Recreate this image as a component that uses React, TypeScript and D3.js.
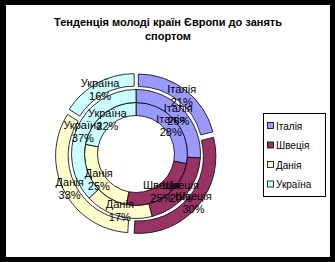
import { useEffect, useRef } from 'react';
import * as d3 from 'd3';

// дані діаграми (у відсотках)
const categories = ['Італія', 'Швеція', 'Данія', 'Україна'];
const innerValues = [28, 25, 25, 22];
const middleValues = [26, 20, 17, 37];
const outerValues = [21, 30, 33, 16];
const palette = ['#9999FF', '#993366', '#FFFFCC', '#CCFFFF'];
const titleLines = ['Тенденція молоді країн Європи до занять', 'спортом'];

const W = 335;
const H = 262;
const FONT = 'Arial, "Liberation Sans", sans-serif';

export default function App() {
  const svgRef = useRef<SVGSVGElement | null>(null);

  useEffect(() => {
    const svg = d3.select(svgRef.current);
    svg.selectAll('*').remove();
    svg.attr('width', W).attr('height', H);

    // ── рамка ───────────────────────────────
    svg.append('rect').attr('width', W).attr('height', H).attr('fill', '#000');
    svg.append('rect').attr('x', 6).attr('y', 5).attr('width', 324).attr('height', 252).attr('fill', '#fff');

    // ── заголовок ───────────────────────────
    svg.append('g').selectAll('text').data(titleLines).join('text')
      .attr('x', 168).attr('y', (_d, i) => 26 + i * 14)
      .attr('text-anchor', 'middle')
      .attr('font-family', FONT).attr('font-size', '11px').attr('font-weight', 'bold')
      .attr('fill', '#000')
      .text(d => d);

    // ── кільця ──────────────────────────────
    const cx = 136, cy = 154;
    const radii = [38.5, 51.5, 64.5, 77];
    const explode = 3.8; // зсув зовнішнього кільця
    const rings = [innerValues, middleValues, outerValues];

    const pie = d3.pie<number>().sort(null).value(d => d);
    const g = svg.append('g').attr('transform', `translate(${cx},${cy})`);
    const labels: { x: number; y: number; name: string; v: number }[] = [];

    rings.forEach((vals, ri) => {
      const arc = d3.arc<d3.PieArcDatum<number>>()
        .innerRadius(radii[ri]).outerRadius(radii[ri + 1]);
      const off = ri === rings.length - 1 ? explode : 0;
      pie(vals).forEach((p, i) => {
        const mid = (p.startAngle + p.endAngle) / 2;
        const dx = off * Math.sin(mid), dy = -off * Math.cos(mid);
        g.append('path')
          .attr('d', arc(p))
          .attr('transform', `translate(${dx},${dy})`)
          .attr('fill', palette[i])
          .attr('stroke', '#000').attr('stroke-width', 0.8);
        const [lx, ly] = arc.centroid(p);
        labels.push({ x: lx + dx, y: ly + dy, name: categories[i], v: p.data });
      });
    });

    // підписи даних
    labels.forEach(l => {
      const t = g.append('text')
        .attr('font-family', FONT).attr('font-size', '11px').attr('fill', '#000')
        .attr('text-anchor', 'middle');
      t.append('tspan').attr('x', l.x).attr('y', l.y - 2).text(l.name);
      t.append('tspan').attr('x', l.x).attr('y', l.y + 11).text(`${l.v}%`);
    });

    // ── легенда ─────────────────────────────
    const lg = svg.append('g');
    lg.append('rect').attr('x', 263.5).attr('y', 113.5).attr('width', 62).attr('height', 83)
      .attr('fill', '#fff').attr('stroke', '#000').attr('stroke-width', 1);
    const rowY = d3.scalePoint<string>().domain(categories).range([126, 184.5]);
    categories.forEach((c, i) => {
      const y = rowY(c)!;
      lg.append('rect').attr('x', 267.5).attr('y', y - 3.5).attr('width', 6).attr('height', 6)
        .attr('fill', palette[i]).attr('stroke', '#000').attr('stroke-width', 0.8);
      lg.append('text').attr('x', 276).attr('y', y + 3.5)
        .attr('font-family', FONT).attr('font-size', '10px').attr('fill', '#000')
        .text(c);
    });
  }, []);

  return (
    <div style={{ position: 'fixed', left: 0, top: 0 }}>
      <svg ref={svgRef} style={{ display: 'block' }} />
    </div>
  );
}
